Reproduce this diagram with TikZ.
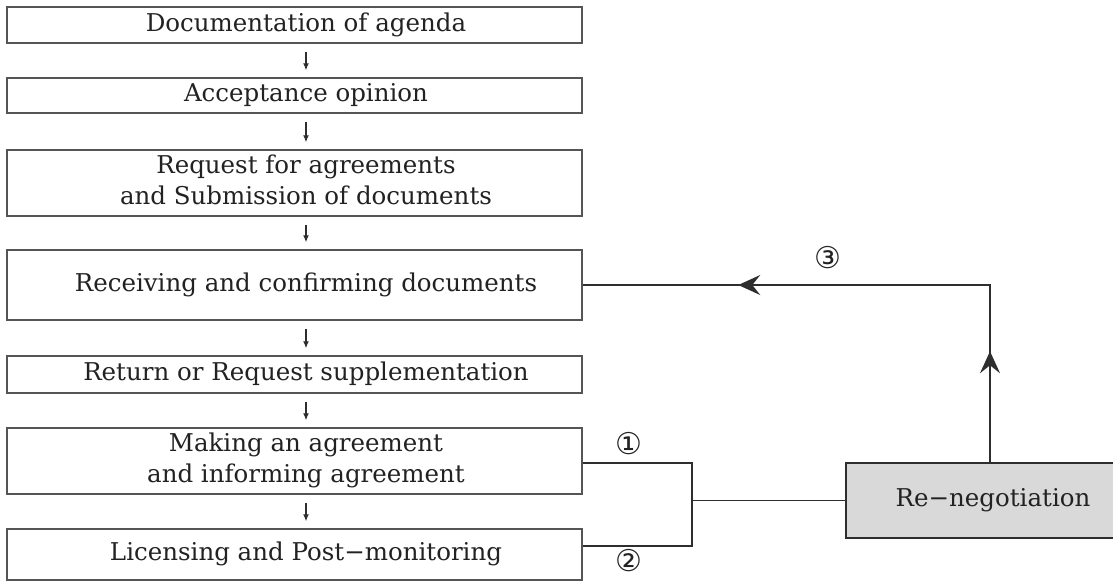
\documentclass[tikz,border=0pt]{standalone}
\usepackage{fontspec}
\setmainfont{DejaVu Serif}
\newfontfamily\circfont{DejaVu Sans}
\usetikzlibrary{arrows.meta,decorations.markings}
\definecolor{boxline}{HTML}{555555}
\definecolor{conline}{HTML}{2E2E2E}
\definecolor{txt}{HTML}{222222}
\definecolor{rnfill}{HTML}{D9D9D9}
\newcommand{\bt}[1]{\hspace*{23pt}\begin{tabular}{@{}c@{}}#1\end{tabular}}
\begin{document}
\begin{tikzpicture}[x=1pt,y=1pt,
  box/.style={draw=boxline, line width=1.5pt, minimum width=575pt, inner sep=0pt,
    font=\fontsize{24.5}{31}\selectfont, text=txt},
  rnbox/.style={draw=conline, line width=1.5pt, fill=rnfill, minimum width=294pt, minimum height=75pt,
    inner sep=0pt, font=\fontsize{24.5}{31}\selectfont, text=txt},
  flow/.style={draw=conline, line width=1.2pt, -{Latex[length=7pt,width=6pt]}, shorten <=8pt, shorten >=7pt},
  con/.style={draw=conline, line width=1.5pt},
  circ/.style={font=\circfont\fontsize{30}{30}\selectfont, text=txt, inner sep=0pt},
  feedback/.style={con, postaction={decorate}, decoration={markings,
    mark=at position 111pt with {\arrow{Stealth[length=22pt,width=20pt,inset=8pt]}},
    mark=at position 429pt with {\arrow{Stealth[length=22pt,width=20pt,inset=8pt]}}}}
]
\useasboundingbox (0,0) rectangle (1113,-582);
\fill[white] (0,0) rectangle (1113,-582);
\clip (0,0) rectangle (1113,-582);

\node[box, minimum height=36pt] (b1) at (294.5,-25) {\bt{Documentation of agenda}};
\node[box, minimum height=35pt] (b2) at (294.5,-95.5) {\bt{Acceptance opinion}};
\node[box, minimum height=66pt] (b3) at (294.5,-183) {\bt{Request for agreements\\and Submission of documents}};
\node[box, minimum height=70pt] (b4) at (294.5,-285) {\bt{Receiving and confirming documents}};
\node[box, minimum height=37pt] (b5) at (294.5,-374.5) {\bt{Return or Request supplementation}};
\node[box, minimum height=66pt] (b6) at (294.5,-461) {\bt{Making an agreement\\and informing agreement}};
\node[box, minimum height=51pt] (b7) at (294.5,-554.5) {\bt{Licensing and Post−monitoring}};

\node[rnbox] (rn) at (993,-500.5) {Re−negotiation};

\coordinate (ax) at (306,0);
\draw[flow] (b1.south -| ax) -- (b2.north -| ax);
\draw[flow] (b2.south -| ax) -- (b3.north -| ax);
\draw[flow] (b3.south -| ax) -- (b4.north -| ax);
\draw[flow] (b4.south -| ax) -- (b5.north -| ax);
\draw[flow] (b5.south -| ax) -- (b6.north -| ax);
\draw[flow] (b6.south -| ax) -- (b7.north -| ax);

% bracket from steps 6 and 7 to re-negotiation
\coordinate (jx) at (692,0);
\coordinate (j2) at ([yshift=8.5pt]b7.east);
\draw[con] ([yshift=-2pt]b6.east) -| (jx |- j2) -- (j2);
\draw[con] (jx |- rn.west) -- (rn.west);

% feedback to step 4
\coordinate (fx) at (990,0);
\draw[feedback] (rn.north -| fx) -- (fx |- b4.east) -- (b4.east);

\node[circ] (n1) at (629,-444) {①};
\node[circ] (n2) at (629,-561) {②};
\node[circ] (n3) at (828,-258) {③};
\end{tikzpicture}
\end{document}
